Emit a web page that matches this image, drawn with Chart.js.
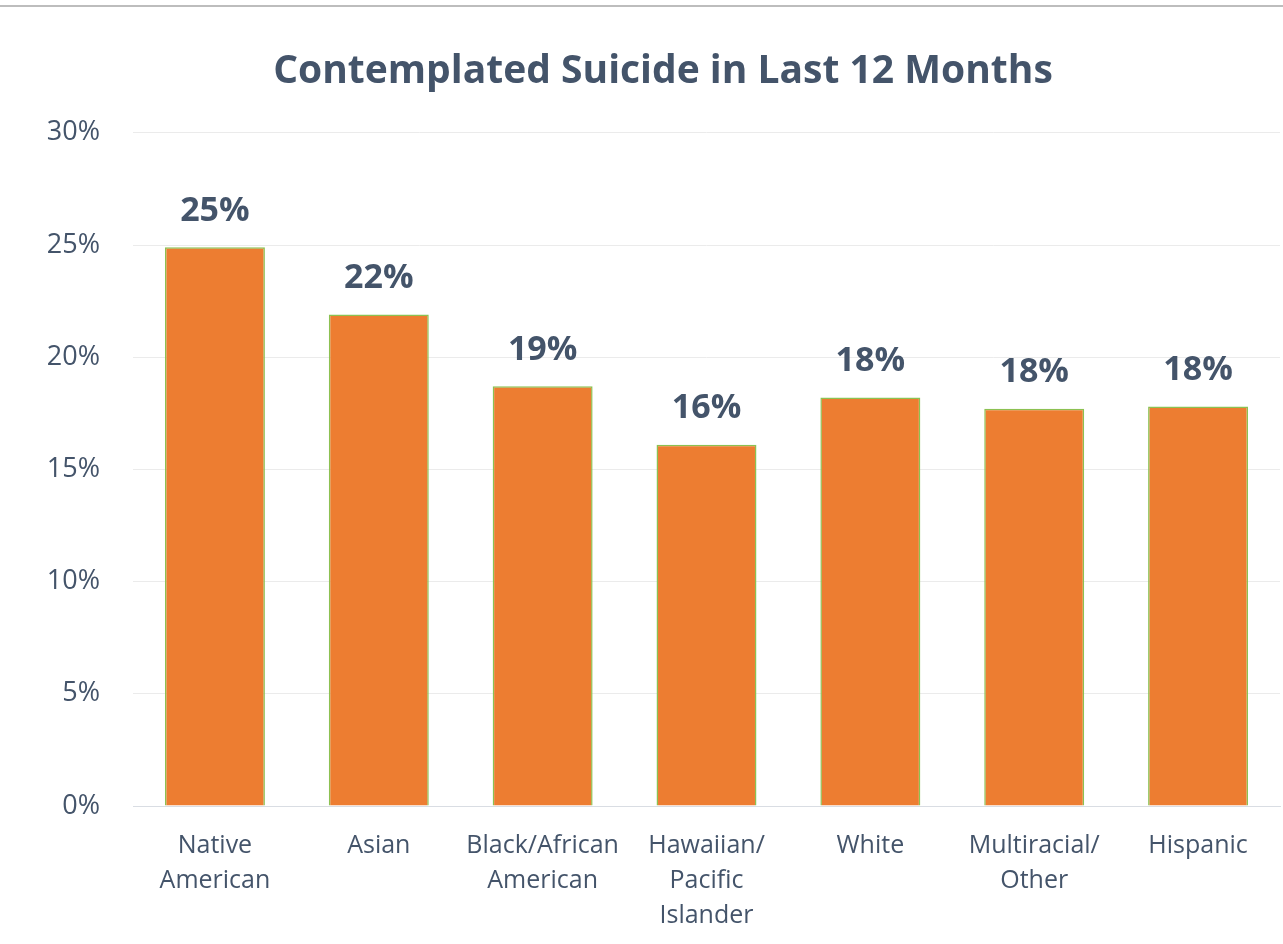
<!DOCTYPE html>
<html>
<head>
<meta charset="utf-8">
<script src="https://cdn.jsdelivr.net/npm/chart.js@4"></script>
<style>
    html, body { margin: 0; padding: 0; background: #fff; overflow: hidden; }
    .frame { position: absolute; left: 0; top: 5px; width: 1283px; height: 942px; border-top: 2px solid #bdbdbd; box-sizing: border-box; }
    canvas { display: block; }
</style>
</head>
<body>
<div class="frame"><canvas id="suicideChart" width="1283" height="940"></canvas></div>
<script>
const categories = [
    ['Native', 'American'],
    'Asian',
    ['Black/African', 'American'],
    ['Hawaiian/', 'Pacific', 'Islander'],
    'White',
    ['Multiracial/', 'Other'],
    'Hispanic'
];
const percentValues = [24.9, 21.9, 18.7, 16.1, 18.2, 17.7, 17.8];
const yTicks = [0, 5, 10, 15, 20, 25, 30];

const textColor = '#44546A';

// draws the bold value labels above each bar
const valueLabels = {
    id: 'valueLabels',
    afterDatasetsDraw(chart) {
        const ctx = chart.ctx;
        const meta = chart.getDatasetMeta(0);
        ctx.save();
        ctx.font = 'bold 34px "Open Sans"';
        ctx.fillStyle = textColor;
        ctx.textAlign = 'center';
        ctx.textBaseline = 'middle';
        meta.data.forEach((bar, i) => {
            ctx.fillText(Math.round(percentValues[i]) + '%', bar.x, bar.y - 36);
        });
        ctx.restore();
    }
};

new Chart(document.getElementById('suicideChart').getContext('2d'), {
    type: 'bar',
    data: {
        labels: categories,
        datasets: [{
            data: percentValues,
            backgroundColor: '#ED7D31',
            borderColor: '#8CC152',
            borderWidth: 1.5,
            categoryPercentage: 1,
            barPercentage: 0.61
        }]
    },
    options: {
        responsive: false,
        animation: false,
        layout: { padding: { left: 46, right: 3, top: 0, bottom: 0 } },
        plugins: {
            legend: { display: false },
            tooltip: { enabled: false },
            title: {
                display: true,
                text: 'Contemplated Suicide in Last 12 Months',
                color: textColor,
                font: { family: '"Open Sans"', size: 39, weight: 'bold' },
                padding: { top: 41, bottom: 38 }
            }
        },
        scales: {
            x: {
                grid: { display: false },
                border: { color: '#d9dde3' },
                ticks: {
                    color: textColor,
                    font: { family: '"Open Sans"', size: 25, lineHeight: 1.4 },
                    padding: 14,
                    maxRotation: 0,
                    autoSkip: false
                }
            },
            y: {
                min: 0,
                max: 30,
                afterBuildTicks: (axis) => { axis.ticks = yTicks.map(v => ({ value: v })); },
                afterFit: (axis) => { axis.width = 87; },
                grid: { color: '#ebebeb', drawTicks: false },
                border: { display: false },
                ticks: {
                    color: textColor,
                    font: { family: '"Open Sans"', size: 27 },
                    padding: 33,
                    callback: (v) => v + '%'
                }
            }
        }
    },
    plugins: [valueLabels]
});
</script>
</body>
</html>
